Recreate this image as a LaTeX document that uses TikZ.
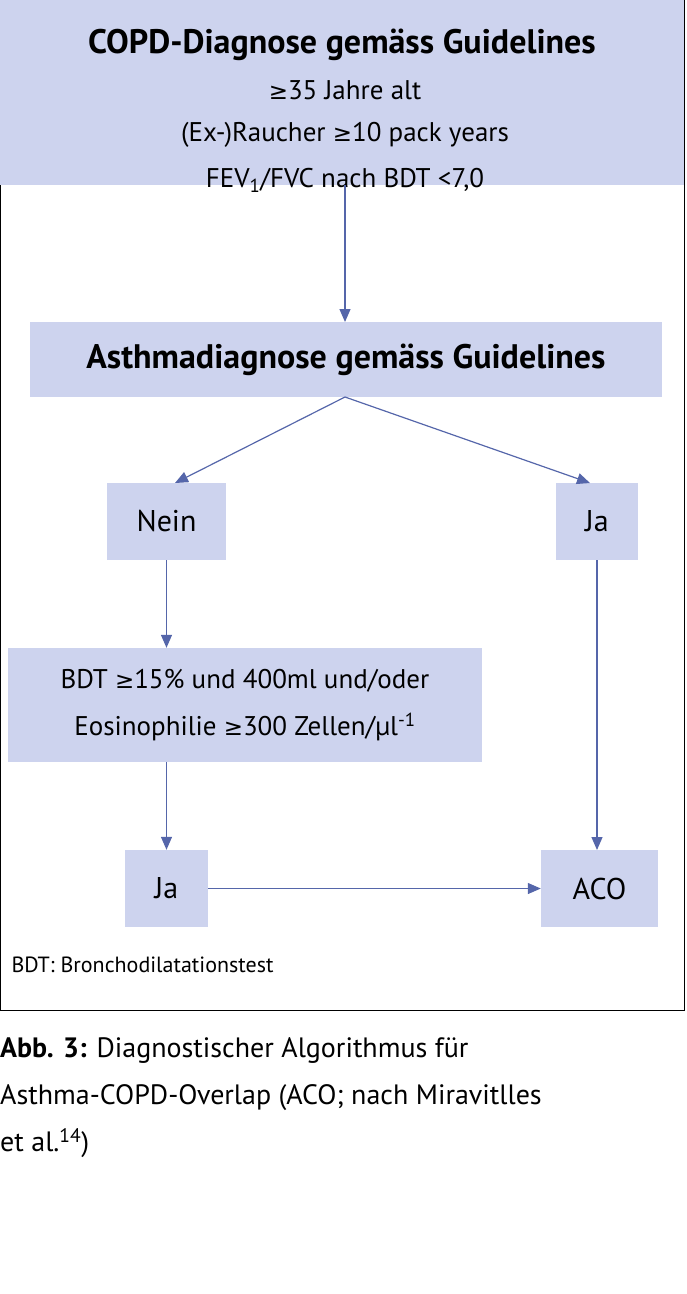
\documentclass[tikz,border=0pt]{standalone}
\usepackage{fontspec}
\setmainfont{PT Sans}
\newfontfamily\dvs{DejaVu Sans}
\usetikzlibrary{arrows.meta}
\newcommand{\mygeq}{{\dvs\fontsize{0.85em}{1em}\selectfont ≥}}
\definecolor{boxc}{HTML}{CDD3EE}
\definecolor{arrc}{HTML}{5566AA}
\tikzset{
  bx/.style={fill=boxc,draw=none,inner sep=0pt,align=center},
  arr/.style={draw=arrc,line width=1.2pt,-{Triangle[length=13pt,width=11pt]}},
  ln/.style={draw=arrc,line width=1.2pt}
}
\begin{document}
\begin{tikzpicture}[x=1pt,y=-1pt]
\useasboundingbox (0,0) rectangle (686,1294);
\draw[line width=1pt] (0.5,0.5) rectangle (684.5,1010);
% boxes
\node[bx,minimum width=684pt,minimum height=185pt] (top) at (342,92.5) {};
\node[font=\fontsize{34}{40}\selectfont\bfseries] at (342,45) {COPD-Diagnose gemäss Guidelines};
\node[font=\fontsize{27}{32}\selectfont] at (345,90) {\mygeq35 Jahre alt};
\node[font=\fontsize{27}{32}\selectfont] at (345,135) {(Ex-)Raucher \mygeq10 pack years};
\node[font=\fontsize{27}{32}\selectfont] at (345,180) {FEV\textsubscript{1}/FVC nach BDT <7,0};
\node[bx,minimum width=632pt,minimum height=75pt,font=\fontsize{34}{40}\selectfont\bfseries] (asth) at (346,359.5) {Asthmadiagnose gemäss Guidelines};
\node[bx,minimum width=119pt,minimum height=77pt,font=\fontsize{30}{36}\selectfont] (nein) at (166.5,521.5) {Nein};
\node[bx,minimum width=82pt,minimum height=77pt,font=\fontsize{30}{36}\selectfont] (ja1) at (597,521.5) {Ja};
\node[bx,minimum width=474pt,minimum height=114pt,font=\fontsize{27}{47}\selectfont] (bdt) at (245,705) {BDT \mygeq15\% und 400ml und/oder\\Eosinophilie \mygeq300 Zellen/µl\textsuperscript{-1}};
\node[bx,minimum width=83pt,minimum height=77pt,font=\fontsize{30}{36}\selectfont] (ja2) at (166.5,888.5) {Ja};
\node[bx,minimum width=117pt,minimum height=77pt,font=\fontsize{30}{36}\selectfont] (aco) at (599.5,888.5) {ACO};
% connectors
\coordinate (t1) at (345,185);
\coordinate (a1) at (345,322);
\draw[arr] (t1) -- (a1);
\coordinate (as) at (345,397);
\draw[arr] (as) -- (175,483);
\draw[arr] (as) -- (590,483);
\draw[arr] (nein.south) -- (nein.south |- bdt.north);
\draw[arr] (166.5,762) -- (ja2.north);
\draw[arr] (ja2.east) -- (aco.west);
\draw[arr] (ja1.south) -- (597,850);
% footnote
\node[anchor=west,font=\fontsize{22}{26}\selectfont] (fn) at (8,965) {BDT: Bronchodilatationstest};
% caption
\node[anchor=north west,align=left,inner sep=0pt,font=\fontsize{28}{47}\selectfont] (cap) at (0,1037) {\textbf{Abb. 3:} Diagnostischer Algorithmus für\\Asthma-COPD-Overlap (ACO; nach Miravitlles\\et al.\textsuperscript{14})};
\end{tikzpicture}
\end{document}
